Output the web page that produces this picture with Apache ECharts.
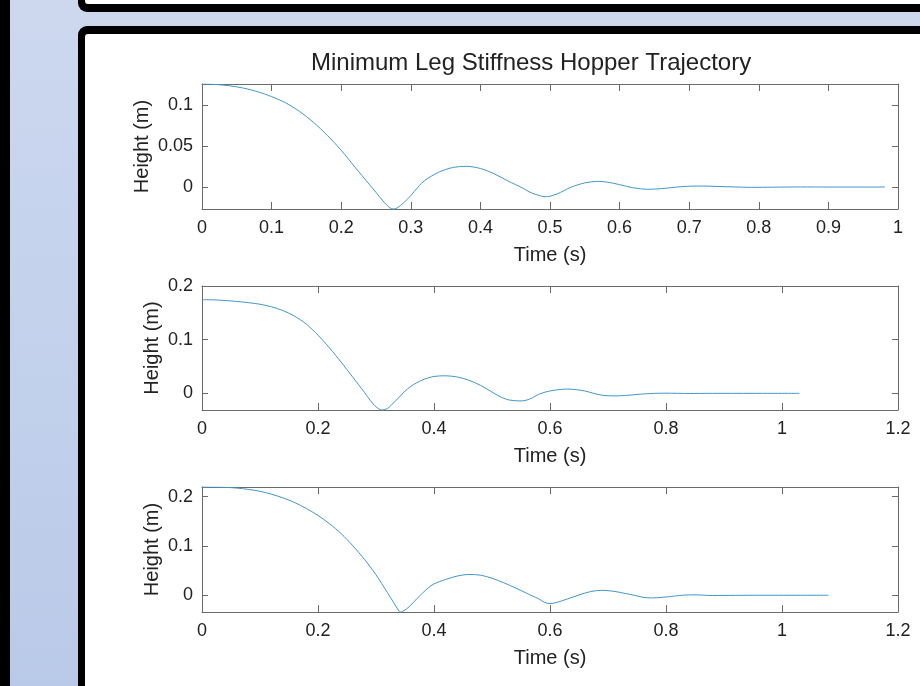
<!DOCTYPE html>
<html>
<head>
<meta charset="utf-8">
<title>Minimum Leg Stiffness Hopper Trajectory</title>
<script src="https://cdn.jsdelivr.net/npm/echarts@6/dist/echarts.min.js"></script>
<style>
  html, body { margin: 0; padding: 0; background: #fff; }
  #main { width: 920px; height: 686px; }
</style>
</head>
<body>
<div id="main"></div>
<script>
// values (time in s, height in m)
var time1 = [0, 0.02, 0.04, 0.06, 0.08, 0.10, 0.12, 0.14, 0.16, 0.18, 0.20, 0.22, 0.24, 0.25, 0.26, 0.27, 0.275, 0.28, 0.29, 0.30,
  0.31, 0.32, 0.34, 0.36, 0.38, 0.40, 0.42, 0.44, 0.46, 0.47, 0.48, 0.493, 0.50, 0.51, 0.52, 0.53, 0.55, 0.57, 0.59, 0.61,
  0.62, 0.64, 0.66, 0.68, 0.70, 0.72, 0.74, 0.76, 0.79, 0.82, 0.86, 0.90, 0.95, 0.981]
var height1 = [0.1256, 0.1250, 0.1234, 0.1205, 0.1162, 0.1102, 0.1027, 0.0922, 0.0790, 0.0630, 0.0448, 0.0240, 0.0036, -0.0065, -0.0170, -0.0255, -0.0268, -0.0258, -0.0190, -0.0105,
  -0.0005, 0.0080, 0.0180, 0.0237, 0.0252, 0.0226, 0.0160, 0.0072, -0.0010, -0.0058, -0.0092, -0.0118, -0.0112, -0.0085, -0.0045, -0.0002, 0.0050, 0.0069, 0.0048, 0.0008,
  -0.0010, -0.0028, -0.0020, -0.0002, 0.0010, 0.0012, 0.0007, 0.0002, -0.0004, -0.0002, 0.0001, 0, 0, 0]

var time2 = [0, 0.02, 0.04, 0.06, 0.08, 0.10, 0.12, 0.14, 0.16, 0.18, 0.20, 0.22, 0.24, 0.26, 0.28, 0.29, 0.30, 0.31, 0.32, 0.33,
  0.34, 0.35, 0.36, 0.38, 0.40, 0.42, 0.44, 0.46, 0.48, 0.50, 0.51, 0.52, 0.53, 0.55, 0.56, 0.57, 0.58, 0.60, 0.63, 0.66,
  0.675, 0.69, 0.71, 0.73, 0.75, 0.78, 0.80, 0.84, 0.88, 0.95, 1.03]
var height2 = [0.1745, 0.1742, 0.1730, 0.1712, 0.1690, 0.1660, 0.1612, 0.1540, 0.1435, 0.1290, 0.1085, 0.0845, 0.0580, 0.0300, 0.0020, -0.0130, -0.0250, -0.0310, -0.0280, -0.0180,
  -0.0070, 0.0040, 0.0130, 0.0250, 0.0315, 0.0327, 0.0305, 0.0245, 0.0150, 0.0025, -0.0040, -0.0090, -0.0125, -0.0142, -0.0125, -0.0080, -0.0020, 0.0045, 0.0080, 0.0045,
  0, -0.0035, -0.0048, -0.0040, -0.0020, 0, 0.0003, -0.0002, 0, 0, 0]

var time3 = [0, 0.02, 0.04, 0.06, 0.08, 0.10, 0.12, 0.14, 0.16, 0.18, 0.20, 0.22, 0.24, 0.26, 0.28, 0.29, 0.30, 0.31, 0.32, 0.33, 0.34,
  0.342, 0.35, 0.36, 0.37, 0.38, 0.39, 0.40, 0.42, 0.44, 0.46, 0.48, 0.50, 0.52, 0.54, 0.56, 0.57, 0.58, 0.59, 0.60, 0.61,
  0.62, 0.64, 0.65, 0.67, 0.69, 0.71, 0.73, 0.745, 0.76, 0.775, 0.80, 0.83, 0.85, 0.88, 0.92, 0.96, 1.08]
var height3 = [0.2197, 0.2195, 0.2190, 0.2175, 0.2148, 0.2110, 0.2050, 0.1975, 0.1880, 0.1760, 0.1620, 0.1450, 0.1250, 0.1005, 0.0730, 0.0578, 0.0415, 0.0235, 0.0050, -0.0140, -0.0330,
  -0.0340, -0.0300, -0.0200, -0.0075, 0.0040, 0.0150, 0.0230, 0.0320, 0.0390, 0.0422, 0.0408, 0.0345, 0.0255, 0.0150, 0.0040, -0.0015, -0.0070, -0.0140, -0.0170, -0.0150,
  -0.0115, -0.0035, 0.0005, 0.0075, 0.0100, 0.0080, 0.0035, 0, -0.0040, -0.0055, -0.0035, 0.0002, 0.0008, -0.0005, -0.0002, 0, 0]

// axis limits and tick labels
var xMax = [1, 1.2, 1.2]
var xStep = [0.1, 0.2, 0.2]
var yMin = [-0.0268, -0.031, -0.034]
var yMax = [0.1256, 0.2, 0.2197]
var yTicks1 = [0, 0.05, 0.1]
var yTicks2 = [0, 0.1, 0.2]
var yTicks3 = [0, 0.1, 0.2]

var times = [time1, time2, time3]
var heights = [height1, height2, height3]
var yTicks = [yTicks1, yTicks2, yTicks3]

var font = 'Liberation Sans, Arial, Helvetica, sans-serif'
var boxColor = '#6a6a6a'
var textColor = '#222'
var lineColor = '#4196c9'

var gridTops = [84, 286, 487]
var gridHeights = [125, 124, 125]
var yNameGaps = [50, 40, 40]

function pairs(t, h) {
  var out = []
  for (var i = 0; i < t.length; i++) {
    out.push([t[i], h[i]])
  }
  return out
}

var grids = []
var xAxes = []
var yAxes = []
var series = []

for (var k = 0; k < 3; k++) {
  grids.push({ left: 202, top: gridTops[k], width: 696, height: gridHeights[k] })

  // bottom axis with labels, top axis only carries the inner ticks
  xAxes.push({
    type: 'value', gridIndex: k, position: 'bottom',
    min: 0, max: xMax[k], interval: xStep[k],
    name: 'Time (s)', nameLocation: 'middle', nameGap: 36, nameMoveOverlap: false,
    nameTextStyle: { fontSize: 20, color: textColor, fontFamily: font },
    axisLine: { show: true, onZero: false, lineStyle: { color: boxColor, width: 1 } },
    axisTick: { show: true, inside: true, length: 7, lineStyle: { color: boxColor } },
    axisLabel: { margin: 10, fontSize: 18, color: textColor, fontFamily: font, showMinLabel: true, showMaxLabel: true },
    splitLine: { show: false }
  })
  xAxes.push({
    type: 'value', gridIndex: k, position: 'top',
    min: 0, max: xMax[k], interval: xStep[k],
    axisLine: { show: true, onZero: false, lineStyle: { color: boxColor, width: 1 } },
    axisTick: { show: true, inside: true, length: 7, lineStyle: { color: boxColor } },
    axisLabel: { show: false },
    splitLine: { show: false }
  })

  yAxes.push({
    type: 'value', gridIndex: k, position: 'left',
    min: yMin[k], max: yMax[k],
    name: 'Height (m)', nameLocation: 'middle', nameGap: yNameGaps[k], nameMoveOverlap: false,
    nameTextStyle: { fontSize: 20, color: textColor, fontFamily: font },
    axisLine: { show: true, onZero: false, lineStyle: { color: boxColor, width: 1 } },
    axisTick: { show: true, inside: true, length: 6, customValues: yTicks[k], lineStyle: { color: boxColor } },
    axisLabel: { margin: 9, fontSize: 18, color: textColor, fontFamily: font, customValues: yTicks[k] },
    splitLine: { show: false }
  })
  yAxes.push({
    type: 'value', gridIndex: k, position: 'right',
    min: yMin[k], max: yMax[k],
    axisLine: { show: true, onZero: false, lineStyle: { color: boxColor, width: 1 } },
    axisTick: { show: true, inside: true, length: 6, customValues: yTicks[k], lineStyle: { color: boxColor } },
    axisLabel: { show: false },
    splitLine: { show: false }
  })

  series.push({
    type: 'line',
    xAxisIndex: k * 2,
    yAxisIndex: k * 2,
    data: pairs(times[k], heights[k]),
    showSymbol: false,
    smooth: 0.3,
    lineStyle: { color: lineColor, width: 1 },
    animation: false
  })
}

// slide frame around the figure
var frame = [
  { type: 'rect', z: -10, shape: { x: 0, y: 0, width: 920, height: 686 },
    style: { fill: { type: 'linear', x: 0, y: 0, x2: 0, y2: 1, colorStops: [{ offset: 0, color: '#cdd8ef' }, { offset: 1, color: '#b9cae8' }] } } },
  { type: 'rect', z: -10, shape: { x: 0, y: 0, width: 10, height: 686 }, style: { fill: '#000' } },
  { type: 'rect', z: -10, shape: { x: 78, y: -80, width: 900, height: 92, r: 9 }, style: { fill: '#000' } },
  { type: 'rect', z: -10, shape: { x: 85, y: -80, width: 900, height: 84, r: 3 }, style: { fill: '#fff' } },
  { type: 'rect', z: -10, shape: { x: 78, y: 26, width: 900, height: 720, r: 9 }, style: { fill: '#000' } },
  { type: 'rect', z: -10, shape: { x: 85, y: 34, width: 900, height: 720, r: 3 }, style: { fill: '#fff' } }
]

var chart = echarts.init(document.getElementById('main'))
chart.setOption({
  animation: false,
  backgroundColor: '#fff',
  title: {
    text: 'Minimum Leg Stiffness Hopper Trajectory',
    left: 306,
    top: 46,
    textStyle: { fontSize: 24, fontWeight: 'normal', color: textColor, fontFamily: font }
  },
  graphic: { elements: frame },
  grid: grids,
  xAxis: xAxes,
  yAxis: yAxes,
  series: series
})
</script>
</body>
</html>
